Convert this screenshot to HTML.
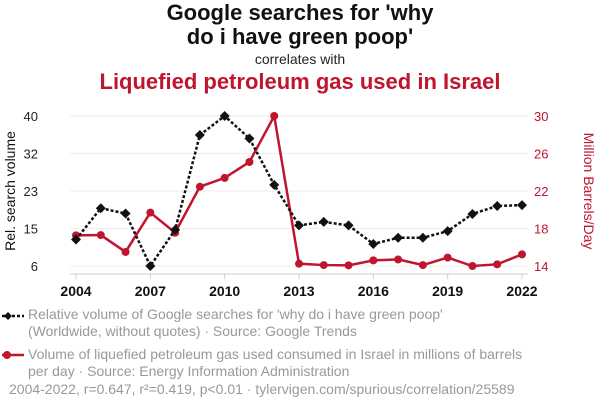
<!DOCTYPE html>
<html><head><meta charset="utf-8"><style>
body{margin:0;width:600px;height:414px;background:#fff;font-family:"Liberation Sans",sans-serif;overflow:hidden;position:relative}
.t{position:absolute;left:0;width:600px;text-align:center}
.leg{position:absolute;left:28px;font-size:14px;color:#999;line-height:17px;width:560px}
</style></head><body>
<div class="t" style="top:1px;font-size:22px;font-weight:bold;line-height:24px;color:#111">Google searches for 'why<br>do i have green poop'</div>
<div class="t" style="top:51px;font-size:14px;color:#222">correlates with</div>
<div class="t" style="top:69px;font-size:22px;font-weight:bold;color:#c0152f">Liquefied petroleum gas used in Israel</div>
<svg id="c" width="600" height="414" style="position:absolute;left:0;top:0"></svg>
<div class="leg" style="top:306px">Relative volume of Google searches for 'why do i have green poop'<br>(Worldwide, without quotes) · Source: Google Trends</div>
<div class="leg" style="top:346px">Volume of liquefied petroleum gas used consumed in Israel in millions of barrels<br>per day · Source: Energy Information Administration</div>
<div class="leg" style="top:381px;left:9px">2004-2022, r=0.647, r²=0.419, p&lt;0.01 · tylervigen.com/spurious/correlation/25589</div>
<script>
const years=[2004,2005,2006,2007,2008,2009,2010,2011,2012,2013,2014,2015,2016,2017,2018,2019,2020,2021,2022];
const google=[12.0,19.1,17.9,6,14.2,35.7,40,34.9,24.4,15.2,16.0,15.2,11.0,12.4,12.4,13.9,17.8,19.6,19.8];
const lpg=[17.27,17.3,15.5,19.7,17.55,22.46,23.4,25.1,30,14.25,14.1,14.07,14.6,14.7,14.1,14.9,14.0,14.18,15.24];
const leftTicks=[6,15,23,32,40];
const rightTicks=[14,18,22,26,30];
const xTicks=[2004,2007,2010,2013,2016,2019,2022];
const NS="http://www.w3.org/2000/svg",s=document.getElementById('c');
const x=v=>76+(v-2004)*(522-76)/18;
const yl=v=>266-(v-6)*150/34;
const yr=v=>266-(v-14)*150/16;
function mk(t,a,p){const e=document.createElementNS(NS,t);for(const k in a)e.setAttribute(k,a[k]);(p||s).appendChild(e);return e;}
leftTicks.forEach((v,i)=>{const yy=266-i*37.5;
 const g=mk('line',{x1:70,x2:528,y1:yy,y2:yy,stroke:'#eee'});
 
 
 const t=mk('text',{x:38,y:yy+5,'font-size':13,'text-anchor':'end',fill:'#222'});t.textContent=v;
 
 
});
rightTicks.forEach(v=>{const t=mk('text',{x:534,y:yr(v)+5,'font-size':13,fill:'#c0152f'});t.textContent=v;
 
 
});
const ax=mk('line',{x1:70,x2:528,y1:274,y2:274,stroke:'#ccc'});


xTicks.forEach(v=>{mk('line',{x1:x(v),x2:x(v),y1:274,y2:279,stroke:'#ccc'});
 const t=mk('text',{x:x(v),y:296,'font-size':14,'font-weight':'bold','text-anchor':'middle',fill:'#111'});t.textContent=v;
 
 
});
const yt=mk('text',{transform:'translate(15,191) rotate(-90)','font-size':14,'text-anchor':'middle',fill:'#111'});yt.textContent='Rel. search volume';


const yt2=mk('text',{transform:'translate(584,191) rotate(90)','font-size':14,'text-anchor':'middle',fill:'#c0152f'});yt2.textContent='Million Barrels/Day';


const rl=mk('polyline',{points:lpg.map((v,i)=>x(years[i])+','+yr(v)).join(' '),fill:'none',stroke:'#c0152f','stroke-width':2.5});


lpg.forEach((v,i)=>{const c=mk('circle',{cx:x(years[i]),cy:yr(v),r:4,fill:'#c0152f'});
 
 
});
const bl=mk('polyline',{points:google.map((v,i)=>x(years[i])+','+yl(v)).join(' '),fill:'none',stroke:'#111','stroke-width':2.5,'stroke-dasharray':'3,2'});


google.forEach((v,i)=>{const cx=x(years[i]),cy=yl(v);
 const d=mk('polygon',{points:`${cx},${cy-5} ${cx+5},${cy} ${cx},${cy+5} ${cx-5},${cy}`,fill:'#111'});
 
 
});
mk('line',{x1:2,x2:24,y1:316,y2:316,stroke:'#111','stroke-width':2.5,'stroke-dasharray':'3,2'});
mk('polygon',{points:'8,312 12,316 8,320 4,316',fill:'#111'});
mk('line',{x1:2,x2:24,y1:355,y2:355,stroke:'#c0152f','stroke-width':2.5});
mk('circle',{cx:7,cy:355,r:4,fill:'#c0152f'});
</script>
</body></html>
